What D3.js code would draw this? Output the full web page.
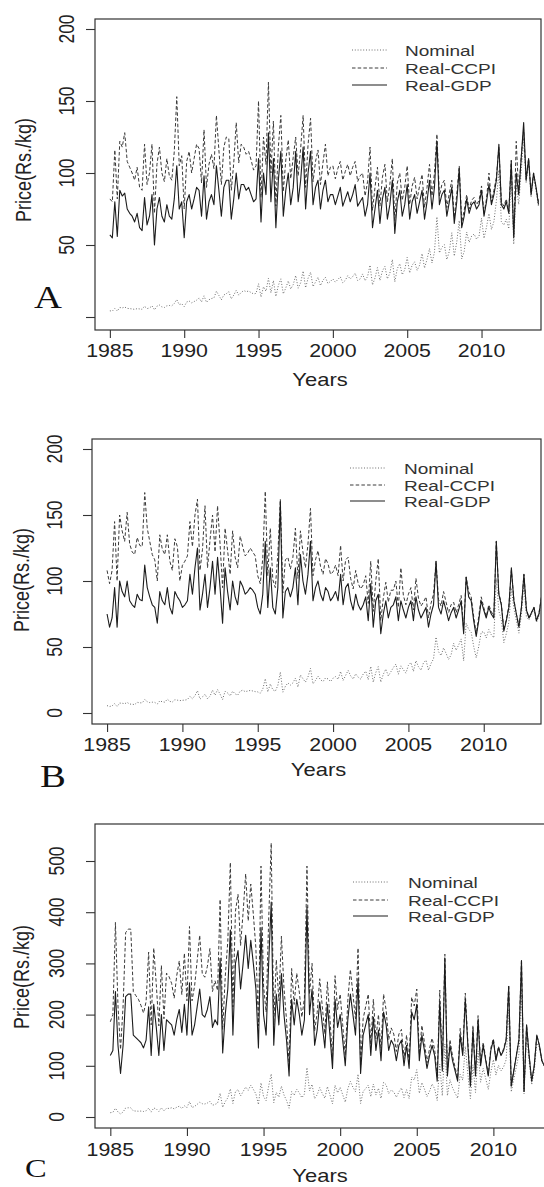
<!DOCTYPE html>
<html lang="en">
<head>
<meta charset="UTF-8">
<title>Price series A, B, C</title>
<script src="https://d3js.org/d3.v7.min.js"></script>
<style>
  body { margin: 0; padding: 0; background: #fff; }
  svg { display: block; }
</style>
</head>
<body>
<div id="chart"></div>
<script>
// bi-monthly readings, Jan 1985 .. Nov 2013, six values per year
const startYear = 1985;
const perYear = 6;
const seriesNames = ["Nominal", "Real-CCPI", "Real-GDP"];
const xTicks = [1985, 1990, 1995, 2000, 2005, 2010];

// ---- panel A
const aNominal = [
  4.3,4.1,6.0,4.2,6.6,6.3, 6.9,6.0,5.8,5.6,5.3,5.8, 5.6,5.4,7.5,5.8,6.3,7.7,
  5.0,7.5,8.3,7.0,6.6,7.8, 8.0,7.8,9.4,12.1,8.6,9.2, 7.2,10.4,11.1,9.8,10.7,11.7,
  13.2,10.5,14.7,10.2,12.0,12.8, 13.3,17.9,15.0,11.9,15.3,16.2, 17.6,12.6,15.2,18.5,15.2,17.0,
  18.4,17.6,18.0,17.0,16.0,16.4, 23.1,13.9,21.0,17.9,26.9,16.8, 25.3,14.3,21.9,26.5,16.1,20.2,
  25.0,19.5,22.5,28.8,20.0,23.8, 31.9,20.3,27.0,31.1,21.1,24.3, 27.6,21.8,25.5,27.6,23.2,24.7,
  26.4,24.2,26.0,27.9,23.9,25.4, 28.7,26.4,28.1,30.4,25.4,26.4, 29.9,25.2,28.1,36.0,22.3,27.0,
  34.3,25.4,32.0,35.1,26.5,30.4, 39.9,24.4,33.6,37.0,29.4,32.8, 41.4,30.6,36.0,38.3,32.4,36.0,
  44.0,34.0,40.0,47.5,37.5,45.0, 69.5,44.5,48.5,50.2,39.9,45.6, 58.5,42.3,52.0,67.0,40.3,45.5,
  59.0,51.8,56.2,57.6,54.0,56.2, 68.6,54.6,62.4,71.8,60.8,66.3, 80.8,102,66.3,63.8,68.0,61.2,
  99.4,50.6,92.0,78.2,101,124, 93.1,108,83.3,98.0,88.2,76.4
];
const aCCPI = [
  82,80,116,82,122,118, 128,108,104,100,95,104, 90,88,120,92,100,120,
  72,106,118,100,94,110, 98,95,115,153,105,112, 75,108,115,100,110,120,
  117,93,130,90,106,113, 103,140,116,92,118,125, 124,88,107,135,107,120,
  118,113,115,109,102,105, 150,83,125,106,163,100, 136,77,118,140,87,109,
  123,96,111,125,98,117, 140,90,120,138,94,108, 116,92,107,120,98,104,
  105,96,103,108,95,101, 106,98,104,108,94,98, 100,84,94,118,74,90,
  104,77,97,106,80,92, 110,67,93,100,81,90, 105,78,91,97,82,91,
  99,76,90,106,84,100, 127,84,92,95,76,86, 95,69,85,105,66,74,
  85,75,81,83,78,81, 91,72,82,100,80,88, 97,118,80,77,82,73,
  109,56,122,86,111,130, 96,110,86,100,90,80
];
const aGDP = [
  57,55,80,56,88,84, 86,75,72,70,66,72, 62,60,83,64,70,85,
  50,75,83,70,66,78, 70,68,82,105,75,80, 55,80,85,75,82,90,
  88,70,98,68,80,85, 78,105,88,70,90,95, 95,68,82,100,82,92,
  92,88,90,85,80,82, 110,66,100,85,128,80, 110,62,95,115,70,88,
  100,78,90,115,80,95, 118,75,100,115,78,90, 95,75,88,95,80,85,
  85,78,84,90,77,82, 87,80,85,92,77,80, 83,70,78,100,62,75,
  88,65,82,90,68,78, 95,58,80,88,70,78, 92,68,80,85,72,80,
  88,68,80,95,75,90, 122,78,85,88,70,80, 90,65,80,103,62,70,
  82,72,78,80,75,78, 88,70,80,92,78,85, 95,120,78,75,80,72,
  108,55,100,85,110,135, 95,110,85,100,90,78
];
const aYTicks = [0, 50, 100, 150, 200];
const aYLabels = ["", "50", "100", "150", "200"];

// ---- panel B
const bNominal = [
  5.6,4.9,5.4,7.1,4.9,7.5, 7.4,7.0,8.0,6.8,6.6,6.4, 8.1,7.7,7.7,10.1,8.6,7.9,
  8.2,8.0,6.8,9.2,8.5,8.2, 10.5,8.8,8.3,10.1,9.7,9.4, 9.6,9.8,10.2,12.6,10.8,13.2,
  16.9,10.5,12.2,14.2,10.8,12.8, 17.3,13.5,17.7,14.3,10.2,16.5, 15.2,12.9,16.5,14.5,13.5,16.5,
  17.3,16.2,16.6,17.1,16.7,16.2, 16.0,15.0,18.0,26.0,16.0,22.0, 17.6,16.5,20.9,31.0,15.8,20.2,
  22.8,21.1,22.8,26.4,19.7,28.8, 26.0,23.4,27.3,33.8,22.1,24.7, 28.0,25.2,23.8,26.6,25.8,23.8,
  26.4,27.6,25.5,31.5,24.6,28.5, 32.3,28.1,25.7,29.7,27.1,25.7, 29.5,31.7,25.2,35.3,23.4,30.6,
  35.1,23.4,29.3,33.2,28.1,31.2, 34.4,37.0,29.4,35.7,32.8,30.2, 36.0,38.3,31.5,39.6,35.1,32.4,
  38.0,40.0,32.5,37.5,41.0,57.5, 46.4,43.5,49.3,45.2,40.6,44.1, 52.8,47.5,51.5,56.1,39.6,68.0,
  63.4,61.2,50.4,41.8,50.4,61.2, 61.6,56.9,63.2,59.3,56.9,102, 77.4,70.5,53.3,60.2,68.8,94.6,
  79.1,69.8,60.5,74.4,97.7,72.5, 70.6,74.5,78.4,68.6,73.5,86.2
];
const bCCPI = [
  108,98,108,145,100,150, 138,130,152,128,122,120, 133,127,126,167,140,130,
  120,116,100,135,124,120, 135,115,108,132,126,100, 112,115,119,145,126,150,
  162,108,124,157,110,131, 150,122,157,128,95,140, 123,105,138,118,110,134,
  126,119,121,125,122,119, 104,98,117,168,104,140, 101,95,120,162,91,116,
  118,109,118,140,102,138, 122,110,128,155,104,116, 123,111,105,117,113,105,
  107,112,104,127,100,116, 118,102,94,108,98,94, 97,104,83,115,77,100,
  117,70,87,99,84,93, 93,100,80,110,89,82, 90,95,78,102,87,81,
  84,88,72,83,90,115, 86,81,92,84,76,82, 84,76,82,89,63,103,
  92,88,73,60,73,88, 80,73,82,77,73,130, 91,83,63,71,81,108,
  86,75,66,80,105,79, 72,76,80,70,76,88
];
const bGDP = [
  75,65,72,95,65,100, 92,88,100,85,82,80, 90,86,85,112,95,88,
  82,80,68,92,85,82, 95,80,75,92,88,85, 80,82,85,105,90,110,
  125,78,90,105,80,95, 115,90,118,95,68,110, 92,78,100,88,82,100,
  96,90,92,95,93,90, 80,75,90,130,80,110, 80,75,95,160,72,92,
  95,88,95,110,82,120, 100,90,105,130,85,95, 100,90,85,95,92,85,
  88,92,85,105,82,95, 98,85,78,90,82,78, 82,88,70,98,65,85,
  90,60,75,85,72,80, 82,88,70,85,78,72, 80,85,70,88,78,72,
  76,80,65,75,82,115, 80,75,85,78,70,76, 80,72,78,85,60,103,
  88,85,70,58,70,85, 78,72,80,75,72,130, 90,82,62,70,80,110,
  85,75,65,80,105,78, 72,76,80,70,75,88
];
const bYTicks = [0, 50, 100, 150, 200];
const bYLabels = ["0", "50", "100", "150", "200"];

// ---- panel C
const cNominal = [
  8.4,9.1,17.2,9.8,6.0,9.8, 17.6,18.0,18.0,12.0,11.6,11.3, 11.6,10.8,12.0,17.2,9.6,17.6,
  15.8,10.8,18.0,11.7,17.1,16.7, 18.0,16.0,19.0,21.0,16.5,22.0, 18.4,30.1,18.4,20.7,24.7,28.8,
  26,25.4,27.3,30.6,22.8,24.7, 27,46.5,18.8,30,37.5,54.8, 26.4,49.5,53.6,41.3,49.5,58.6,
  52.2,62.1,54,45,24.3,66.6, 40,32,60,84,28,48, 38.7,60.2,43,32.3,17.2,49.5,
  42.3,54.1,47,37.6,44.7,96.4, 51,63.8,35.7,43.4,57.4,45.9, 36.5,59.4,43.2,25.7,62.1,47.3,
  58,43.5,29,55.1,69.6,58, 49.6,83.7,26.4,49.6,55.8,62, 39.6,64.4,42.9,56.1,36.3,67.7,
  63,45.5,52.5,49,38.5,49, 57,38,53.2,36.1,77.9,72.2, 92.4,46.2,67.2,54.6,39.9,50.4,
  64.4,55.2,32.2,103.5,41.4,142.6, 41.6,72.8,57.2,46.8,36.4,83.2, 72,138,84,36,102,48,
  129,68,95,75,54,88, 112,82,101,90,98,112, 209,49,74,98,123,250,
  45,162,108,63,90,144, 136,107,97,107,92,97
];
const cCCPI = [
  186,200,380,217,132,217, 360,367,367,245,237,230, 218,203,225,322,180,330,
  259,178,296,192,281,274, 261,232,276,305,239,320, 227,372,227,256,305,355,
  280,273,294,329,245,266, 247,425,171,274,343,497, 215,402,435,335,400,475,
  383,455,396,330,178,490, 256,205,384,535,180,307, 227,353,252,189,101,290,
  220,281,244,195,232,490, 240,300,168,204,270,216, 162,264,192,114,276,210,
  240,180,120,228,288,240, 192,330,102,192,216,240, 142,230,153,200,130,240,
  209,151,174,162,128,162, 171,114,160,108,234,217, 250,123,179,146,106,134,
  154,132,77,248,99,318, 86,151,119,97,76,173, 126,242,147,63,179,84,
  198,104,146,114,83,135, 153,112,138,122,133,153, 258,61,91,121,152,308,
  50,180,120,70,100,160, 140,110,100,110,95,100
];
const cGDP = [
  120,130,245,140,85,140, 235,240,240,160,155,150, 145,135,150,215,120,220,
  175,120,200,130,190,185, 180,160,190,210,165,220, 160,262,160,180,215,250,
  200,195,210,235,175,190, 180,310,125,200,250,365, 160,300,325,250,300,355,
  290,345,300,250,135,370, 200,160,300,420,140,240, 180,280,200,150,80,230,
  180,230,200,160,190,410, 200,250,140,170,225,180, 135,220,160,95,230,175,
  200,150,100,190,240,200, 160,270,85,160,180,200, 120,195,130,170,110,205,
  180,130,150,140,110,140, 150,100,140,95,205,190, 220,110,160,130,95,120,
  140,120,70,225,90,310, 80,140,110,90,70,160, 120,230,140,60,170,80,
  190,100,140,110,80,130, 150,110,135,120,130,150, 255,60,90,120,150,305,
  50,180,120,70,100,160, 140,110,100,110,95,100
];
const cYTicks = [0, 100, 200, 300, 400, 500];
const cYLabels = ["0", "100", "200", "300", "400", "500"];

// layout of the three panels (pixels)
const panels = [
  { letter: "A", series: [aNominal, aCCPI, aGDP], yTicks: aYTicks, yLabels: aYLabels,
    xDomain: [1984, 2014], xRange: [95, 541], yDomain: [0, 200], yRange: [317, 29],
    boxTop: 19, boxBottom: 330, boxRight: 541,
    yLabX: 74, yTitleX: 31, yTitleY: 170, xLabY: 357, xTitleY: 386,
    letterX: 34, letterY: 308, letterSize: 31,
    legX: [352, 387], legTextX: 405, legY: [50, 68, 85] },
  { letter: "B", series: [bNominal, bCCPI, bGDP], yTicks: bYTicks, yLabels: bYLabels,
    xDomain: [1984, 2013.8], xRange: [92, 541], yDomain: [0, 200], yRange: [713, 449],
    boxTop: 439, boxBottom: 724, boxRight: 541,
    yLabX: 62, yTitleX: 29, yTitleY: 580, xLabY: 751, xTitleY: 776,
    letterX: 40, letterY: 787, letterSize: 31,
    legX: [350, 385], legTextX: 404, legY: [468, 485, 501] },
  { letter: "C", series: [cNominal, cCCPI, cGDP], yTicks: cYTicks, yLabels: cYLabels,
    xDomain: [1984, 2015], xRange: [95, 570], yDomain: [0, 500], yRange: [1117, 861],
    boxTop: 824, boxBottom: 1128, boxRight: 570,
    yLabX: 64, yTitleX: 29, yTitleY: 977, xLabY: 1156, xTitleY: 1182,
    letterX: 25, letterY: 1177, letterSize: 26,
    legX: [353, 388], legTextX: 408, legY: [882, 900, 916] }
];

const lineStyles = [
  { stroke: "#6e6e6e", dash: "1,1.8", width: 1 },
  { stroke: "#3a3a3a", dash: "3.5,2.2", width: 1 },
  { stroke: "#1c1c1c", dash: null, width: 1.1 }
];

const W = 544, H = 1187;
const sx = 1.22; // the scan is stretched sideways
const sans = "'Liberation Sans', Arial, sans-serif";
const serif = "'Liberation Serif', 'Times New Roman', serif";

const svg = d3.select("#chart").append("svg")
  .attr("width", W).attr("height", H)
  .style("background", "#fff");

function label(g, x, y, str, size, opts = {}) {
  let tf = `translate(${x},${y}) scale(${opts.sx || sx},1)`;
  if (opts.rotate) tf += " rotate(-90)";
  return g.append("text")
    .attr("transform", tf)
    .attr("text-anchor", opts.anchor || "middle")
    .attr("font-family", opts.family || sans)
    .attr("font-size", size)
    .attr("fill", opts.fill || "#222")
    .text(str);
}

panels.forEach((p, pi) => {
  const g = svg.append("g");
  const x = d3.scaleLinear().domain(p.xDomain).range(p.xRange);
  const y = d3.scaleLinear().domain(p.yDomain).range(p.yRange);
  const left = p.xRange[0];

  const clipId = "clip" + pi;
  svg.append("clipPath").attr("id", clipId)
    .append("rect")
    .attr("x", left).attr("y", p.boxTop)
    .attr("width", p.boxRight - left).attr("height", p.boxBottom - p.boxTop);

  // series
  const line = d3.line()
    .x((d, i) => x(startYear + i / perYear))
    .y(d => y(d));

  p.series.forEach((vals, si) => {
    const st = lineStyles[si];
    g.append("path")
      .datum(vals)
      .attr("clip-path", `url(#${clipId})`)
      .attr("fill", "none")
      .attr("stroke", st.stroke)
      .attr("stroke-width", st.width)
      .attr("stroke-dasharray", st.dash)
      .attr("stroke-linejoin", "round")
      .attr("d", line);
  });

  // box
  g.append("rect")
    .attr("x", left).attr("y", p.boxTop)
    .attr("width", p.boxRight - left).attr("height", p.boxBottom - p.boxTop)
    .attr("fill", "none").attr("stroke", "#333").attr("stroke-width", 1.2);

  // axes: tick marks from d3, labels drawn separately (stretched)
  const yAx = g.append("g")
    .attr("transform", `translate(${left},0)`)
    .call(d3.axisLeft(y).tickValues(p.yTicks).tickSize(9).tickSizeOuter(0).tickFormat(""));
  const xAx = g.append("g")
    .attr("transform", `translate(0,${p.boxBottom})`)
    .call(d3.axisBottom(x).tickValues(xTicks).tickSize(8).tickSizeOuter(0).tickFormat(""));
  [yAx, xAx].forEach(a => {
    a.select(".domain").remove();
    a.selectAll("line").attr("stroke", "#333").attr("stroke-width", 1.1);
  });

  p.yTicks.forEach((v, i) => {
    label(g, p.yLabX, y(v), p.yLabels[i], 17.5, { rotate: true });
  });
  xTicks.forEach(v => {
    label(g, x(v), p.xLabY, String(v), 17.5);
  });

  label(g, p.yTitleX, p.yTitleY, "Price(Rs./kg)", 18, { rotate: true });
  label(g, (left + 541) / 2 + 2, p.xTitleY, "Years", 18);
  label(g, p.letterX, p.letterY, p.letter, p.letterSize, { anchor: "start", family: serif, sx: 1.25, fill: "#111" });

  // legend
  seriesNames.forEach((name, si) => {
    const st = lineStyles[si];
    g.append("line")
      .attr("x1", p.legX[0]).attr("x2", p.legX[1])
      .attr("y1", p.legY[si]).attr("y2", p.legY[si])
      .attr("stroke", st.stroke).attr("stroke-width", st.width)
      .attr("stroke-dasharray", st.dash);
    label(g, p.legTextX, p.legY[si] + 5.5, name, 15, { anchor: "start", sx: 1.27, fill: "#333" });
  });
});
</script>
</body>
</html>
